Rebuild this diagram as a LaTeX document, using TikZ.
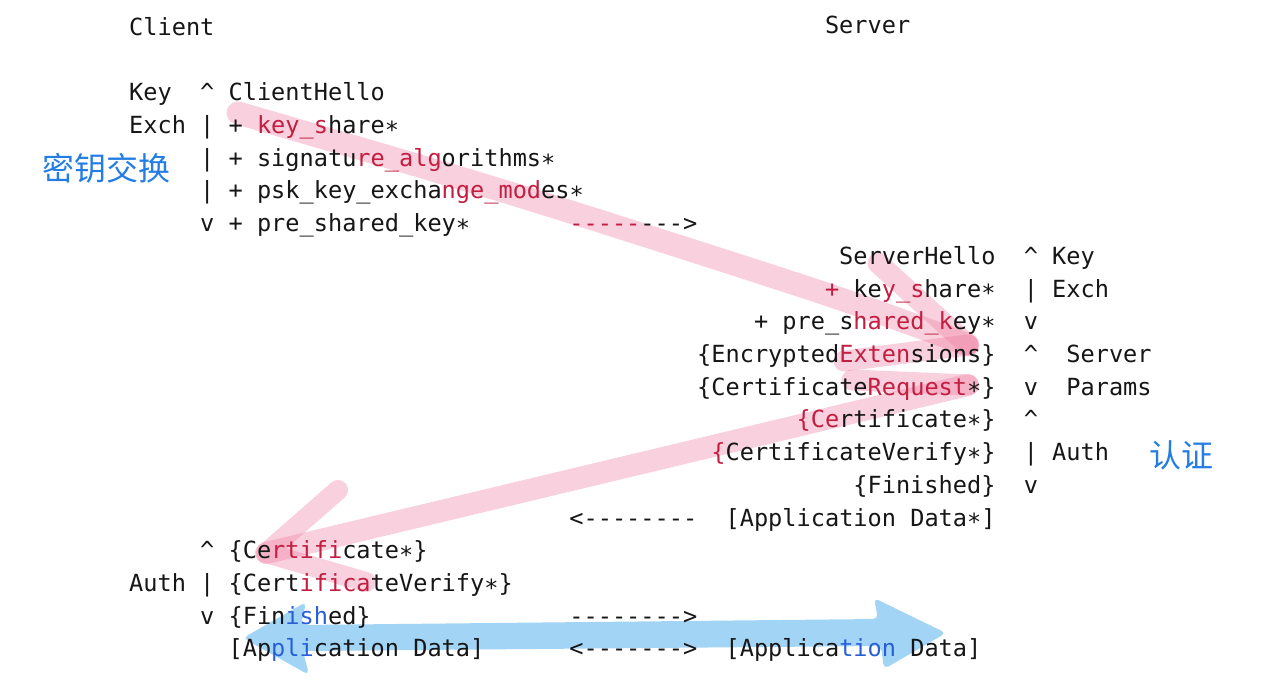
\documentclass[tikz,border=0pt]{standalone}
\usepackage{fontspec}
\setmonofont{DejaVu Sans Mono}
\newfontfamily\cjkfont{Noto Sans CJK SC}
\definecolor{txt}{RGB}{22,22,22}
\definecolor{hlred}{RGB}{195,30,65}
\definecolor{hlblue}{RGB}{40,95,215}
\definecolor{labelblue}{RGB}{35,125,228}
\definecolor{pinkstroke}{RGB}{240,125,162}
\definecolor{bluestroke}{RGB}{70,170,238}
\newcommand\hr[1]{\textcolor{hlred}{#1}}
\newcommand\hb[1]{\textcolor{hlblue}{#1}}
\newcommand\crt{\textasciicircum}
\newcommand\st{\raisebox{-0.2em}{*}}
\tikzset{
  mono/.style={font=\ttfamily\fontsize{23.6pt}{28pt}\selectfont, text=txt, inner sep=0pt, anchor=base west},
  pinkbrush/.style={draw=pinkstroke, draw opacity=0.36, line width=23pt, line cap=round, line join=round},
  pinkbarb/.style={pinkbrush, line width=21pt},
  bluebrush/.style={fill=bluestroke, fill opacity=0.5, rounded corners=5pt},
  cnlabel/.style={font=\cjkfont\fontsize{32pt}{36pt}\selectfont, text=labelblue, inner sep=0pt}
}
\newcommand\mtxt[4]{\node[mono] (#1) at ({129+14.2*#2},{35.5+32.7*#3}) {#4};}
\begin{document}
\begin{tikzpicture}[x=1pt,y=-1pt]
\fill[white] (0,0) rectangle (1274,692);
\useasboundingbox (0,0) rectangle (1274,692);

% ---- highlight strokes (drawn first) ----
\coordinate (p1s) at (238,113);
\coordinate (p1a) at (513,194);
\coordinate (p1b) at (820,292);
\coordinate (p1t) at (968,345);
\coordinate (p1u) at (878,263);
\coordinate (p1l) at (844,361);
\draw[pinkbrush] plot[smooth] coordinates {(p1s) (p1a) (p1b) (p1t)};
\draw[pinkbarb] (p1u) -- (p1t);
\draw[pinkbarb] (p1t) -- (p1l);
\coordinate (p2c) at (852,380);
\coordinate (p2s) at (968,385);
\coordinate (p2t) at (266,553);
\coordinate (p2u) at (338,490);
\coordinate (p2l) at (366,582);
\draw[pinkbarb] (p2c) -- (p2s);
\draw[pinkbrush, line width=22pt] (p2s) -- (p2t);
\draw[pinkbarb, line width=20pt] (p2u) -- (p2t) -- (p2l);

\fill[bluebrush] (243,638) -- (306,602) -- (301,625) -- (878,619) -- (874,598)
  -- (946,633) -- (884,669) -- (881,646) -- (303,651) -- (309,675) -- cycle;

% ---- text ----
\mtxt{client}{0}{0}{Client}
\node[mono] (server) at ({129+14.2*49},{33.5}) {Server};

\mtxt{r2a}{0}{2}{Key}
\mtxt{r2b}{5}{2}{\crt}
\mtxt{r2c}{7}{2}{ClientHello}

\mtxt{r3a}{0}{3}{Exch}
\mtxt{r3b}{5}{3}{|}
\mtxt{r3c}{7}{3}{+ \hr{key\_s}hare\st}

\mtxt{r4b}{5}{4}{|}
\mtxt{r4c}{7}{4}{+ signatu\hr{re\_alg}orithms\st}

\mtxt{r5b}{5}{5}{|}
\mtxt{r5c}{7}{5}{+ psk\_key\_excha\hr{nge\_mod}es\st}

\mtxt{r6b}{5}{6}{v}
\mtxt{r6c}{7}{6}{+ pre\_shared\_key\st}
\mtxt{r6d}{31}{6}{\hr{-----}--->}

\mtxt{r7a}{50}{7}{ServerHello}
\mtxt{r7b}{63}{7}{\crt}
\mtxt{r7c}{65}{7}{Key}

\mtxt{r8a}{49}{8}{\hr{+} ke\hr{y\_s}hare\st}
\mtxt{r8b}{63}{8}{|}
\mtxt{r8c}{65}{8}{Exch}

\mtxt{r9a}{44}{9}{+ pre\_s\hr{hared\_k}ey\st}
\mtxt{r9b}{63}{9}{v}

\mtxt{r10a}{40}{10}{\{Encrypted\hr{Exten}sions\}}
\mtxt{r10b}{63}{10}{\crt}
\mtxt{r10c}{66}{10}{Server}

\mtxt{r11a}{40}{11}{\{Certificate\hr{Request}\st\}}
\mtxt{r11b}{63}{11}{v}
\mtxt{r11c}{66}{11}{Params}

\mtxt{r12a}{47}{12}{\hr{\{Ce}rtificate\st\}}
\mtxt{r12b}{63}{12}{\crt}

\mtxt{r13a}{41}{13}{\hr{\{}CertificateVerify\st\}}
\mtxt{r13b}{63}{13}{|}
\mtxt{r13c}{65}{13}{Auth}

\mtxt{r14a}{51}{14}{\{Finished\}}
\mtxt{r14b}{63}{14}{v}

\mtxt{r15a}{31}{15}{<--------}
\mtxt{r15b}{42}{15}{[Application Data\st]}

\mtxt{r16b}{5}{16}{\crt}
\mtxt{r16c}{7}{16}{\{Ce\hr{rtifi}cate\st\}}

\mtxt{r17a}{0}{17}{Auth}
\mtxt{r17b}{5}{17}{|}
\mtxt{r17c}{7}{17}{\{Cert\hr{ifica}teVerify\st\}}

\mtxt{r18b}{5}{18}{v}
\mtxt{r18c}{7}{18}{\{Fin\hb{ish}ed\}}
\mtxt{r18d}{31}{18}{-------->}

\mtxt{r19c}{7}{19}{[Ap\hb{pli}cation Data]}
\mtxt{r19d}{31}{19}{<------->}
\mtxt{r19e}{42}{19}{[Applica\hb{tion} Data]}

% ---- Chinese labels ----
\node[cnlabel] (kx) at (106,168) {密钥交换};
\node[cnlabel] (au) at (1181,455) {认证};
\end{tikzpicture}
\end{document}
